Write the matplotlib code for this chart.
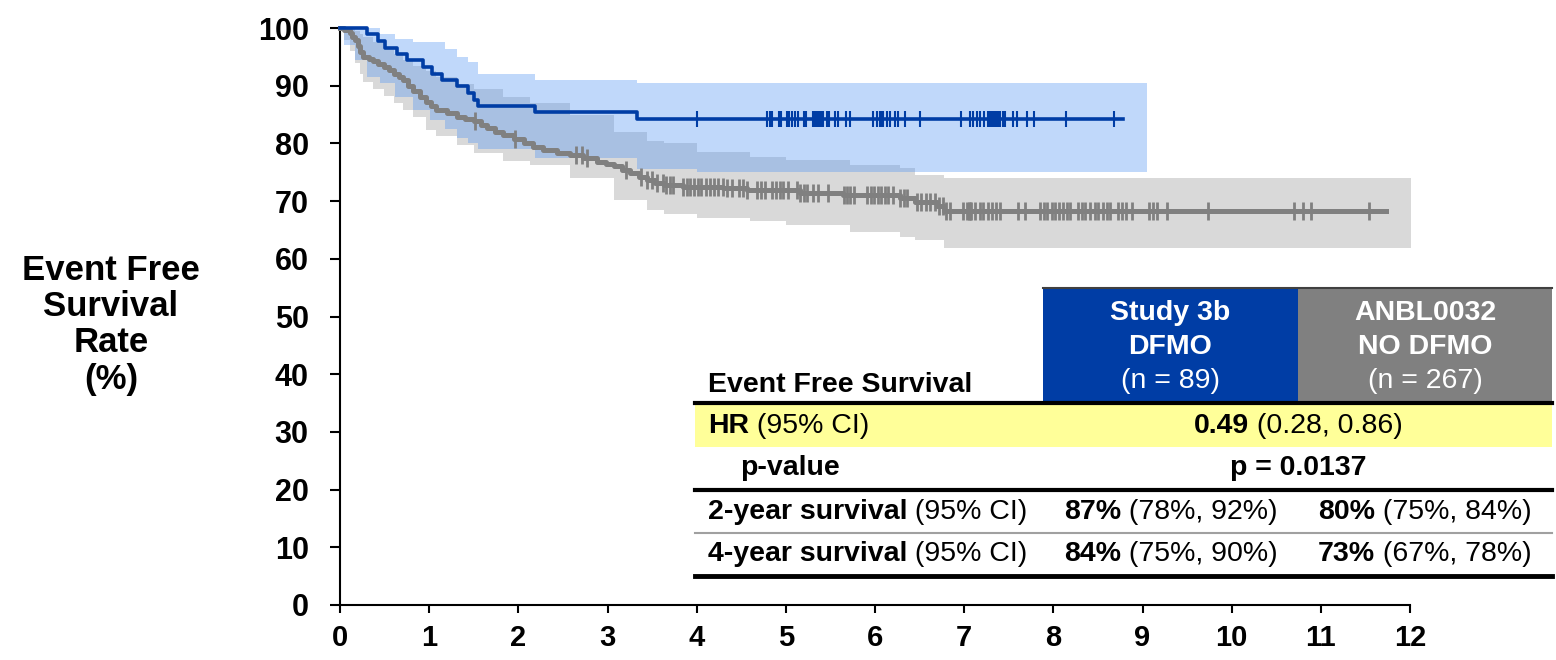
# Event free survival: Kaplan-Meier curves with confidence bands and summary table

import numpy as np
import matplotlib
matplotlib.use("Agg")
import matplotlib.pyplot as plt
from matplotlib.patches import Rectangle

# Study 3b (DFMO) - event times (years) and survival (%) after each event
dfmo_t = [0.30, 0.43, 0.50, 0.64, 0.75, 0.93, 1.03, 1.14, 1.31, 1.44, 1.50, 1.55, 2.19, 3.33]
dfmo_s = [98.9, 97.8, 96.6, 95.5, 94.4, 93.3, 92.1, 91.0, 89.9, 88.8, 87.6, 86.5, 85.4, 84.3]
dfmo_end = 8.78
dfmo_cens = [4.00, 4.79, 4.82, 4.85, 4.92, 4.95, 5.01, 5.04, 5.07, 5.10, 5.14, 5.20, 5.23,
             5.31, 5.33, 5.35, 5.36, 5.38, 5.40, 5.42, 5.46, 5.48, 5.55, 5.59, 5.68, 5.72,
             5.98, 6.02, 6.06, 6.08, 6.09, 6.13, 6.17, 6.22, 6.26, 6.34, 6.50, 6.97, 7.07,
             7.10, 7.14, 7.18, 7.22, 7.27, 7.29, 7.31, 7.33, 7.35, 7.36, 7.38, 7.40, 7.44,
             7.46, 7.55, 7.59, 7.70, 7.78, 8.14, 8.68]
dfmo_band_t = [0, 0.05, 0.17, 0.30, 0.45, 0.62, 0.82, 1.01, 1.18, 1.31, 1.44, 1.55, 2.19, 3.33, 4.0, 9.05]
dfmo_hi = [100, 100, 100, 100, 99.0, 98.1, 97.6, 97.6, 96.4, 95.0, 94.1, 92.1, 91.0, 90.5, 90.5, 90.5]
dfmo_lo = [100, 97.0, 94.5, 91.5, 90.5, 88.1, 85.8, 84.1, 82.5, 81.0, 80.0, 79.0, 77.5, 75.5, 75.0, 75.0]

# ANBL0032 (no DFMO)
anbl_t = [0.05, 0.11, 0.14, 0.17, 0.20, 0.22, 0.26, 0.32, 0.37, 0.43, 0.49, 0.55, 0.60, 0.66,
          0.71, 0.76, 0.82, 0.90, 0.97, 1.02, 1.08, 1.20, 1.31, 1.40, 1.50, 1.58, 1.65, 1.74,
          1.83, 1.95, 2.06, 2.17, 2.28, 2.43, 2.58, 2.73, 2.88, 2.98, 3.07, 3.16, 3.25, 3.35,
          3.44, 3.53, 3.63, 3.85, 4.30, 4.56, 5.16, 5.64, 6.28, 6.45, 6.70, 6.77]
anbl_s = [99.6, 99.1, 98.5, 97.9, 96.9, 95.9, 95.0, 94.6, 94.2, 93.8, 93.3, 92.7, 92.1, 91.5,
          91.0, 90.0, 89.0, 88.1, 87.2, 86.5, 85.8, 85.2, 84.6, 84.2, 83.8, 83.2, 82.6, 82.0,
          81.5, 80.7, 80.0, 79.4, 78.9, 78.4, 78.0, 77.4, 76.8, 76.4, 76.0, 75.4, 74.8, 74.2,
          73.7, 73.2, 72.8, 72.5, 72.2, 71.9, 71.4, 71.1, 70.5, 69.9, 69.2, 68.3]
anbl_end = 11.73
anbl_cens = [1.51, 1.96, 2.65, 2.71, 2.77, 3.21, 3.38, 3.44, 3.50, 3.56, 3.62, 3.66, 3.70, 3.74,
             3.85, 3.89, 3.93, 3.97, 4.01, 4.05, 4.10, 4.15, 4.19, 4.24, 4.29, 4.34, 4.40, 4.47,
             4.52, 4.56, 4.68, 4.72, 4.77, 4.85, 4.89, 4.93, 4.97, 5.02, 5.12, 5.16, 5.20, 5.24,
             5.30, 5.36, 5.47, 5.65, 5.69, 5.72, 5.76, 5.91, 5.95, 5.99, 6.03, 6.07, 6.11, 6.15,
             6.20, 6.28, 6.32, 6.36, 6.47, 6.52, 6.57, 6.62, 6.67, 6.72, 6.76, 6.80, 6.84, 6.99,
             7.03, 7.05, 7.07, 7.08, 7.12, 7.18, 7.21, 7.27, 7.31, 7.36, 7.40, 7.60, 7.68, 7.85,
             7.89, 7.93, 7.98, 8.02, 8.06, 8.11, 8.15, 8.19, 8.28, 8.32, 8.36, 8.41, 8.47, 8.50,
             8.56, 8.60, 8.64, 8.73, 8.77, 8.82, 8.88, 9.07, 9.12, 9.16, 9.27, 9.73, 10.70,
             10.80, 10.89, 11.54]
anbl_band_t = [0, 0.05, 0.11, 0.17, 0.22, 0.26, 0.37, 0.49, 0.60, 0.71, 0.82, 0.97, 1.08, 1.31,
               1.50, 1.83, 2.13, 2.58, 3.07, 3.44, 3.63, 4.0, 4.6, 5.0, 5.72, 6.28, 6.45, 6.77, 12.02]
anbl_hi = [100, 100, 100, 99.5, 99.0, 98.5, 97.5, 96.5, 95.5, 94.5, 93.5, 92.5, 91.5, 90.3,
           89.5, 88.0, 87.0, 85.0, 82.0, 80.5, 80.0, 78.5, 77.7, 77.1, 76.3, 75.7, 74.5, 74.0, 74.0]
anbl_lo = [100, 98.0, 96.0, 94.0, 92.0, 90.7, 89.5, 88.3, 87.0, 85.8, 84.5, 82.3, 81.3, 79.7,
           78.3, 77.0, 76.2, 74.0, 70.2, 68.5, 67.8, 67.0, 66.5, 65.9, 64.7, 63.8, 63.3, 61.9, 61.9]

x_ticks = list(range(0, 13))
y_ticks = list(range(0, 101, 10))

BLUE = "#003da5"
GREY = "#808080"
NARROW = ["Liberation Sans Narrow", "Liberation Sans", "DejaVu Sans"]
WIDE = ["Liberation Sans", "DejaVu Sans"]
TABLE_SIZE = 20.5


def km_at(times, surv, t):
    i = np.searchsorted(times, t, side="right") - 1
    return 100.0 if i < 0 else surv[i]


fig = plt.figure(figsize=(15.56, 6.6), dpi=100)
ax = fig.add_axes([340 / 1556, 55 / 660, 1070 / 1556, 577 / 660])

# confidence bands
ax.fill_between(anbl_band_t, anbl_lo, anbl_hi, step="post", color="#d9d9d9", lw=0, zorder=1)
ax.fill_between(dfmo_band_t, dfmo_lo, dfmo_hi, step="post", color=(85 / 255, 150 / 255, 244 / 255),
                alpha=0.37, lw=0, zorder=2)

# survival curves
ax.step([0] + anbl_t + [anbl_end], [100] + anbl_s + [anbl_s[-1]], where="post",
        color=GREY, lw=3.6, zorder=3, clip_on=False)
ax.plot(anbl_cens, [km_at(anbl_t, anbl_s, t) for t in anbl_cens], ls="none", marker="|",
        ms=13, mew=2, color=GREY, zorder=3)
ax.step([0] + dfmo_t + [dfmo_end], [100] + dfmo_s + [dfmo_s[-1]], where="post",
        color=BLUE, lw=2.6, zorder=4, clip_on=False)
ax.plot(dfmo_cens, [km_at(dfmo_t, dfmo_s, t) for t in dfmo_cens], ls="none", marker="|",
        ms=12, mew=1.5, color=BLUE, zorder=4)

ax.set_xlim(0, 12)
ax.set_ylim(0, 100)
ax.set_xticks(x_ticks)
ax.set_yticks(y_ticks)
for s in ["top", "right"]:
    ax.spines[s].set_visible(False)
for s in ["left", "bottom"]:
    ax.spines[s].set_linewidth(1.5)
ax.tick_params(axis="y", direction="out", length=7, width=1.5, pad=15.5)
ax.tick_params(axis="x", direction="out", length=6, width=1.5, pad=8)
for lab in ax.get_yticklabels():
    lab.set_fontfamily(WIDE)
    lab.set_fontweight("bold")
    lab.set_fontsize(22)
for lab in ax.get_xticklabels():
    lab.set_fontfamily(NARROW)
    lab.set_fontweight("bold")
    lab.set_fontsize(21)

# overlay in pixel coordinates for the axis title and the table
axt = fig.add_axes([0, 0, 1, 1])
axt.set_xlim(0, 1556)
axt.set_ylim(660, 0)
axt.axis("off")

for txt, yy in zip(["Event Free", "Survival", "Rate", "(%)"], [270, 306, 343, 380]):
    axt.text(111, yy, txt, ha="center", va="center", fontsize=25, fontweight="bold",
             family=WIDE)

renderer = fig.canvas.get_renderer()


def rich(x, y, parts, size=TABLE_SIZE, ha="left", color="black"):
    arts = [axt.text(0, y, s, fontsize=size, fontweight="bold" if b else "normal",
                     family=NARROW, color=color, va="center", ha="left") for s, b in parts]
    widths = [a.get_window_extent(renderer).width for a in arts]
    x0 = x - sum(widths) / 2 if ha == "center" else x
    for a, w in zip(arts, widths):
        a.set_x(x0)
        x0 += w


TL, TR = 695, 1552
C1, C2 = 1043, 1298

# header cells
axt.add_patch(Rectangle((C1, 288), C2 - C1, 115, color=BLUE, lw=0))
axt.add_patch(Rectangle((C2, 288), TR - C2, 115, color=GREY, lw=0))
axt.plot([C1, TR], [288, 288], color="#404040", lw=1.5)
for txt, yy, b in [("Study 3b", 313, True), ("DFMO", 347, True), ("(n = 89)", 381, False)]:
    rich((C1 + C2) / 2, yy, [(txt, b)], ha="center", color="white")
for txt, yy, b in [("ANBL0032", 313, True), ("NO DFMO", 347, True), ("(n = 267)", 381, False)]:
    rich((C2 + TR) / 2, yy, [(txt, b)], ha="center", color="white")
rich(708, 385, [("Event Free Survival", True)])

# hazard ratio row
axt.add_patch(Rectangle((TL, 404), TR - TL, 43, color="#ffff99", lw=0))
axt.plot([TL, TR], [403, 403], color="black", lw=3)
rich(708, 426, [("HR", True), (" (95% CI)", False)])
rich(C2, 426, [("0.49", True), (" (0.28, 0.86)", False)], ha="center")

# p-value row
rich(740, 468, [("p-value", True)])
rich(C2, 468, [("p = 0.0137", True)], ha="center")
axt.plot([TL, TR], [490, 490], color="black", lw=3)

# survival rows
rich(708, 512, [("2-year survival", True), (" (95% CI)", False)])
rich((C1 + C2) / 2, 512, [("87%", True), (" (78%, 92%)", False)], ha="center")
rich((C2 + TR) / 2, 512, [("80%", True), (" (75%, 84%)", False)], ha="center")
axt.plot([TL, TR], [533, 533], color="#a0a0a0", lw=1.5)
rich(708, 554, [("4-year survival", True), (" (95% CI)", False)])
rich((C1 + C2) / 2, 554, [("84%", True), (" (75%, 90%)", False)], ha="center")
rich((C2 + TR) / 2, 554, [("73%", True), (" (67%, 78%)", False)], ha="center")
axt.plot([TL, TR], [576, 576], color="black", lw=3.5)

fig.savefig("out.png", dpi=100)
